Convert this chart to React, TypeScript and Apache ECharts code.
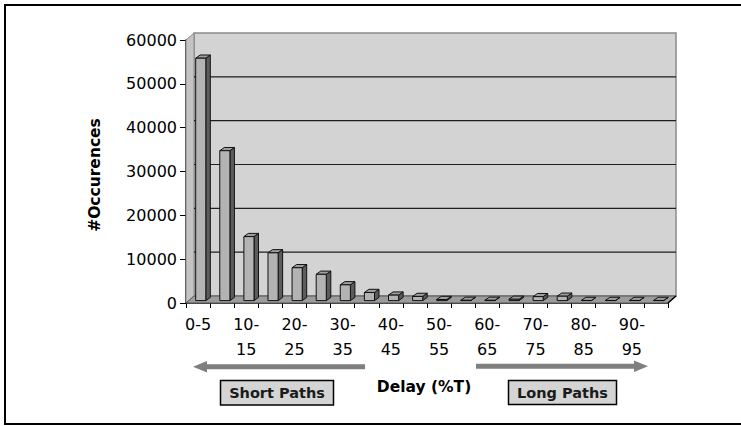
import React, { useEffect, useRef } from "react";
import * as echarts from "echarts";

const categories = [
  "0-5", "5-10", "10-15", "15-20", "20-25", "25-30", "30-35", "35-40", "40-45", "45-50",
  "50-55", "55-60", "60-65", "65-70", "70-75", "75-80", "80-85", "85-90", "90-95", "95-100",
];
const occurrences = [
  55300, 34200, 14600, 10900, 7500, 6000, 3600, 1850, 1250, 950,
  250, 60, 60, 300, 900, 1000, 30, 30, 30, 30,
];
const yTicks = [0, 10000, 20000, 30000, 40000, 50000, 60000];

const FONT = "DejaVu Sans";
// 3D depth geometry (pixels)
const WALL_DX = 8;
const WALL_DY = -7;
const BAR_OFF_X = 2.7;
const BAR_OFF_Y = -2.4;
const BAR_DX = 4.5;
const BAR_DY = -3.2;

export default function App() {
  const ref = useRef<HTMLDivElement>(null);

  useEffect(() => {
    if (!ref.current) return;
    const chart = echarts.init(ref.current, undefined, { renderer: "svg" });

    const wallsRender = (params: any, api: any) => {
      const cs = params.coordSys;
      const x0 = cs.x;
      const x1 = cs.x + cs.width;
      const yTop = api.coord([0, yTicks[yTicks.length - 1]])[1];
      const yBase = api.coord([0, 0])[1];
      const children: any[] = [];
      children.push({
        type: "rect",
        shape: { x: x0 + WALL_DX, y: yTop + WALL_DY, width: x1 - x0, height: yBase - yTop },
        style: { fill: "#d3d3d3", stroke: "#8a8a8a", lineWidth: 1.5 },
      });
      children.push({
        type: "polygon",
        shape: {
          points: [
            [x0, yBase],
            [x0, yTop],
            [x0 + WALL_DX, yTop + WALL_DY],
            [x0 + WALL_DX, yBase + WALL_DY],
          ],
        },
        style: { fill: "#c4c4c4", stroke: "#8a8a8a", lineWidth: 1 },
      });
      yTicks.slice(1, yTicks.length - 1).forEach((v) => {
        const y = api.coord([0, v])[1] + WALL_DY;
        children.push({
          type: "line",
          shape: { x1: x0 + WALL_DX, y1: y, x2: x1 + WALL_DX, y2: y },
          style: { stroke: "#1e1e1e", lineWidth: 1.2 },
        });
      });
      children.push({
        type: "polygon",
        shape: {
          points: [
            [x0, yBase],
            [x1, yBase],
            [x1 + WALL_DX, yBase + WALL_DY],
            [x0 + WALL_DX, yBase + WALL_DY],
          ],
        },
        style: { fill: "#9c9c9c", stroke: "#555", lineWidth: 1 },
      });
      children.push({
        type: "line",
        shape: { x1: x1, y1: yBase, x2: x1 + WALL_DX, y2: yBase + WALL_DY },
        style: { stroke: "#000", lineWidth: 1.5 },
      });
      return { type: "group", children };
    };

    const barRender = (params: any, api: any) => {
      const idx = api.value(0);
      const val = api.value(1);
      const base = api.coord([idx, 0]);
      const top = api.coord([idx, val]);
      const band = api.size([1, 0])[0];
      const w = band * 0.42;
      const fx = base[0] - w / 2 + BAR_OFF_X;
      const by = base[1] + BAR_OFF_Y;
      const ty = top[1] + BAR_OFF_Y;
      const stroke = { stroke: "#111", lineWidth: 1 };
      return {
        type: "group",
        children: [
          {
            type: "polygon",
            shape: {
              points: [
                [fx + w, by],
                [fx + w, ty],
                [fx + w + BAR_DX, ty + BAR_DY],
                [fx + w + BAR_DX, by + BAR_DY],
              ],
            },
            style: { fill: "#5c5c5c", ...stroke },
          },
          {
            type: "polygon",
            shape: {
              points: [
                [fx, ty],
                [fx + w, ty],
                [fx + w + BAR_DX, ty + BAR_DY],
                [fx + BAR_DX, ty + BAR_DY],
              ],
            },
            style: { fill: "#9e9e9e", ...stroke },
          },
          {
            type: "rect",
            shape: { x: fx, y: ty, width: w, height: Math.max(by - ty, 0) },
            style: { fill: "#b3b3b3", ...stroke },
          },
        ],
      };
    };

    const option: any = {
      animation: false,
      backgroundColor: "#ffffff",
      grid: { left: 186, top: 40, width: 482, height: 263, containLabel: false },
      xAxis: {
        type: "category",
        data: categories,
        axisLine: { show: true, lineStyle: { color: "#000", width: 1.5 } },
        axisTick: { show: true, interval: 0, length: 5, lineStyle: { color: "#000" } },
        axisLabel: {
          interval: 1,
          margin: 9,
          color: "#000",
          fontFamily: FONT,
          fontSize: 16,
          lineHeight: 25,
          formatter: (v: string) => (v === "0-5" ? v : v.replace("-", "-\n")),
        },
        splitLine: { show: false },
      },
      yAxis: {
        type: "value",
        min: 0,
        max: 60000,
        interval: 10000,
        axisLine: { show: true, lineStyle: { color: "#000", width: 1.5 } },
        axisTick: { show: true, length: 6, lineStyle: { color: "#000" } },
        axisLabel: {
          margin: 9,
          color: "#000",
          fontFamily: FONT,
          fontSize: 16,
          formatter: (v: number) => String(v),
        },
        splitLine: { show: false },
      },
      series: [
        {
          type: "custom",
          name: "walls",
          z: 1,
          silent: true,
          renderItem: wallsRender,
          data: [[0, 0]],
        },
        {
          type: "custom",
          name: "#Occurences",
          z: 2,
          renderItem: barRender,
          data: occurrences.map((v, i) => [i, v]),
        },
      ],
      graphic: [
        {
          type: "polyline",
          shape: { points: [[800, 5], [5, 5], [5, 424], [800, 424]] },
          style: { fill: "none", stroke: "#000", lineWidth: 2 },
          silent: true,
          z: 0,
        },
        {
          type: "text",
          x: 95,
          y: 175,
          rotation: Math.PI / 2,
          style: {
            text: "#Occurences",
            fontFamily: FONT,
            fontWeight: "bold",
            fontSize: 15.5,
            fill: "#000",
            align: "center",
            verticalAlign: "middle",
          },
        },
        {
          type: "text",
          x: 424,
          y: 387,
          style: {
            text: "Delay (%T)",
            fontFamily: FONT,
            fontWeight: "bold",
            fontSize: 15.5,
            fill: "#000",
            align: "center",
            verticalAlign: "middle",
          },
        },
        {
          type: "polygon",
          shape: {
            points: [
              [193, 366.7],
              [207, 361],
              [207, 364.2],
              [365, 364.2],
              [365, 369.2],
              [207, 369.2],
              [207, 372.4],
            ],
          },
          style: { fill: "#7f7f7f" },
        },
        {
          type: "polygon",
          shape: {
            points: [
              [648, 366.2],
              [634, 360.5],
              [634, 363.7],
              [476, 363.7],
              [476, 368.7],
              [634, 368.7],
              [634, 371.9],
            ],
          },
          style: { fill: "#7f7f7f" },
        },
        {
          type: "rect",
          shape: { x: 220.5, y: 380.5, width: 113, height: 24.5 },
          style: { fill: "#d4d4d4", stroke: "#000", lineWidth: 1.5 },
        },
        {
          type: "text",
          x: 277,
          y: 393,
          style: {
            text: "Short Paths",
            fontFamily: FONT,
            fontWeight: "bold",
            fontSize: 14.5,
            fill: "#1a1a1a",
            align: "center",
            verticalAlign: "middle",
          },
        },
        {
          type: "rect",
          shape: { x: 508.5, y: 380.5, width: 108, height: 24 },
          style: { fill: "#d4d4d4", stroke: "#000", lineWidth: 1.5 },
        },
        {
          type: "text",
          x: 562.5,
          y: 393,
          style: {
            text: "Long Paths",
            fontFamily: FONT,
            fontWeight: "bold",
            fontSize: 14.5,
            fill: "#1a1a1a",
            align: "center",
            verticalAlign: "middle",
          },
        },
      ],
    };

    chart.setOption(option);
    return () => chart.dispose();
  }, []);

  return (
    <div
      ref={ref}
      style={{ position: "fixed", left: 0, top: 0, width: 741, height: 426, background: "#fff" }}
    />
  );
}
